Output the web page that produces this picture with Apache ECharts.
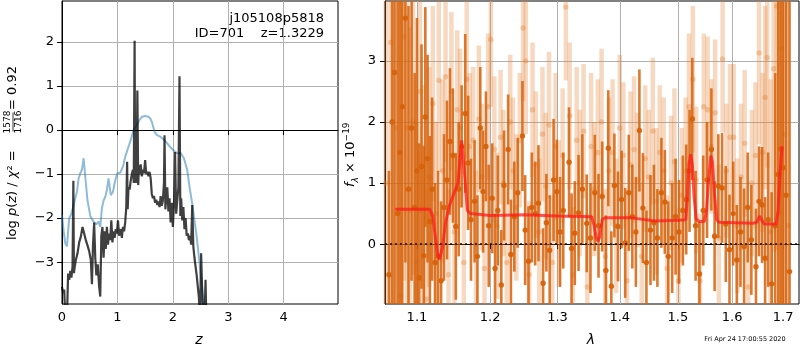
<!DOCTYPE html>
<html><head><meta charset="utf-8">
<script src="https://cdn.jsdelivr.net/npm/echarts@6/dist/echarts.min.js"></script>
<style>html,body{margin:0;padding:0;background:#fff}#c{width:800px;height:350px}</style>
</head><body><div id="c"></div>
<script>
// ---- left panel: p(z) ----
const zTicks = [0, 1, 2, 3, 4];
const lnpTicks = [-3, -2, -1, 0, 1, 2];
const zBlack = [0.00,0.02,0.04,0.06,0.085,0.11,0.13,0.15,0.17,0.19,0.205,0.215,0.23,0.25,0.28,0.31,0.34,0.37,0.40,0.43,0.46,0.49,0.52,0.54,0.56,0.58,0.60,0.62,0.645,0.67,0.69,0.71,0.73,0.75,0.77,0.79,0.81,0.83,0.85,0.87,0.89,0.91,0.93,0.95,0.97,0.99,1.01,1.03,1.06,1.08,1.10,1.12,1.14,1.16,1.175,1.185,1.20,1.22,1.24,1.26,1.28,1.295,1.31,1.32,1.33,1.345,1.36,1.375,1.39,1.40,1.42,1.44,1.46,1.48,1.50,1.52,1.54,1.56,1.58,1.60,1.62,1.64,1.66,1.68,1.70,1.72,1.74,1.76,1.78,1.80,1.82,1.84,1.85,1.865,1.88,1.90,1.92,1.94,1.96,1.98,2.00,2.02,2.04,2.06,2.08,2.10,2.12,2.135,2.15,2.17,2.19,2.21,2.23,2.25,2.27,2.29,2.31,2.33,2.35,2.37,2.39,2.41,2.43,2.45,2.47,2.49,2.51,2.53,2.55,2.57,2.59,2.61];
const lnpBlack = [-3.56,-3.70,-3.62,-4.30,-4.50,-3.26,-3.40,-3.20,-3.35,-3.10,-1.15,-3.25,-3.10,-2.95,-2.80,-2.55,-2.42,-2.20,-2.35,-2.50,-2.62,-2.75,-2.95,-3.50,-2.60,-2.10,-2.90,-3.30,-3.05,-3.55,-3.78,-2.40,-2.20,-2.90,-2.30,-2.70,-2.20,-2.60,-2.35,-2.50,-2.05,-2.55,-2.30,-2.45,-2.25,-2.35,-2.05,-2.40,-2.25,-2.45,-2.20,-2.30,-2.10,-1.75,-0.72,-1.80,-1.30,-1.35,-1.15,-1.00,-0.90,-1.20,2.03,-1.20,-0.90,-1.20,0.90,-1.25,-0.80,-1.00,-0.78,-1.05,-0.90,-0.98,-0.68,-1.00,-0.95,-1.05,-0.95,-1.10,-1.45,-1.55,-1.50,-1.65,-1.58,-1.70,-1.62,-1.75,-1.50,-1.72,-1.60,-1.20,-0.12,-1.80,-1.55,-1.30,-1.85,-1.55,-2.10,-1.65,-2.20,-1.70,-0.50,-1.90,-1.60,-1.30,1.22,-1.95,-1.55,-2.05,-1.75,-2.25,-2.00,-2.40,-2.35,-2.50,-2.40,-2.60,-1.70,-2.65,-2.90,-3.10,-3.30,-3.55,-3.80,-4.30,-2.80,-3.70,-4.30,-4.40,-3.40,-4.60];
const zBlue = [0.00,0.03,0.06,0.09,0.11,0.13,0.16,0.20,0.24,0.27,0.30,0.33,0.36,0.39,0.42,0.46,0.51,0.57,0.62,0.66,0.69,0.72,0.75,0.78,0.81,0.84,0.88,0.92,0.96,1.00,1.05,1.10,1.14,1.20,1.24,1.29,1.35,1.40,1.44,1.50,1.56,1.60,1.63,1.67,1.71,1.77,1.83,1.89,1.95,2.02,2.08,2.14,2.20,2.26,2.30,2.35,2.39,2.43,2.47,2.50,2.54,2.58];
const lnpBlue = [-1.93,-2.30,-2.58,-2.64,-2.30,-2.00,-1.93,-1.76,-1.55,-1.40,-1.10,-0.98,-0.90,-0.64,-1.06,-1.60,-1.95,-2.08,-2.14,-2.08,-2.20,-1.78,-1.60,-1.52,-1.36,-1.10,-1.48,-1.40,-1.14,-0.98,-0.97,-0.83,-0.61,-0.38,-0.23,0.00,0.11,0.23,0.30,0.32,0.30,0.25,0.15,-0.04,-0.11,-0.15,-0.21,-0.29,-0.38,-0.47,-0.53,-0.52,-0.64,-0.91,-1.29,-1.67,-2.05,-2.42,-2.88,-3.26,-3.71,-4.20];

// ---- right panel: spectrum ----
const lamTicks = [1.1, 1.2, 1.3, 1.4, 1.5, 1.6, 1.7];
const fluxTicks = [0, 1, 2, 3];
const lamDark = [1.064,1.068,1.071,1.075,1.078,1.081,1.085,1.089,1.093,1.097,1.100,1.103,1.106,1.109,1.111,1.114,1.117,1.120,1.124,1.128,1.132,1.136,1.140,1.144,1.148,1.152,1.156,1.160,1.165,1.169,1.173,1.178,1.182,1.186,1.190,1.194,1.198,1.203,1.207,1.211,1.216,1.220,1.226,1.230,1.235,1.240,1.247,1.251,1.256,1.261,1.266,1.271,1.278,1.283,1.288,1.294,1.299,1.304,1.309,1.318,1.322,1.327,1.333,1.339,1.346,1.352,1.359,1.365,1.371,1.377,1.381,1.386,1.391,1.397,1.403,1.409,1.415,1.421,1.427,1.433,1.439,1.445,1.452,1.458,1.464,1.471,1.477,1.483,1.490,1.496,1.502,1.509,1.515,1.521,1.526,1.532,1.539,1.546,1.553,1.561,1.567,1.574,1.581,1.588,1.595,1.602,1.609,1.616,1.623,1.630,1.637,1.646,1.652,1.658,1.664,1.670,1.677,1.684,1.690,1.695,1.700,1.706,1.713];
const fluxDark = [-0.5,2.0,2.81,0.5,1.5,2.25,3.70,0.9,1.9,0.6,1.2,-0.55,1.27,-0.19,2.08,1.40,0.37,0.9,-0.3,-0.20,-0.60,0.6,1.05,1.68,1.45,0.29,0.9,1.6,2.14,1.33,0.40,0.7,-0.2,1.90,0.86,1.60,0.3,0.75,-0.40,0.55,-0.67,0.96,1.55,-0.17,0.45,0.84,1.77,0.23,-0.28,0.6,0.5,0.67,-0.64,0.35,-0.1,1.05,0.86,0.2,0.55,1.34,-0.07,0.18,0.51,0.9,0.34,0.1,0.84,0.3,0.78,-0.43,1.57,-0.69,0.96,0.29,0.73,0.02,0.84,0.45,0.2,1.86,0.59,-0.3,0.23,0.35,0.1,0.84,0.69,-0.20,0.10,0.45,0.2,0.55,0.73,1.2,2.05,0.3,-0.49,0.55,1.05,1.55,0.13,0.95,0.92,0.33,-0.09,0.5,-0.26,0.2,-0.04,0.6,0.07,-0.37,0.70,0.64,-0.23,0.4,-0.65,0.3,1.14,1.56,1.25,0.8,-0.45];
const errDark = [1.7,5,5,5,5,4,4,3,2.5,2.2,2.5,2.2,2.0,1.8,1.8,1.7,1.4,1.5,1.3,1.4,1.3,1.2,1.3,1.2,1.1,1.2,1.1,1.0,1.3,1.1,1.0,1.0,1.0,1.0,1.0,0.9,1.0,0.9,0.9,0.9,0.9,0.9,0.9,0.9,0.9,0.9,0.9,0.9,0.9,0.9,0.85,0.95,0.9,0.8,0.9,1.0,0.85,0.9,0.95,0.9,0.9,0.85,0.95,0.9,0.8,0.9,0.95,0.85,0.9,0.9,0.95,0.9,0.85,0.9,0.8,0.9,0.95,0.85,0.9,1.0,0.9,0.85,0.9,0.95,0.8,0.9,0.85,0.9,0.9,0.95,0.85,0.9,0.9,1.0,1.0,0.9,0.85,0.9,0.95,1.0,0.9,0.85,0.9,0.95,0.9,0.85,0.9,0.9,0.95,0.9,0.9,0.95,0.9,0.95,1.0,1.1,1.5,2.5,5,5,5,5,5];
const lamLight = [1.060,1.066,1.073,1.079,1.083,1.087,1.091,1.095,1.099,1.104,1.108,1.112,1.116,1.121,1.125,1.129,1.134,1.138,1.142,1.146,1.150,1.154,1.158,1.163,1.167,1.171,1.176,1.180,1.184,1.188,1.192,1.197,1.201,1.206,1.210,1.215,1.219,1.224,1.229,1.233,1.238,1.243,1.248,1.252,1.257,1.262,1.267,1.272,1.277,1.282,1.287,1.292,1.297,1.302,1.308,1.313,1.319,1.324,1.330,1.335,1.341,1.347,1.353,1.358,1.364,1.370,1.376,1.382,1.388,1.394,1.400,1.406,1.412,1.418,1.424,1.430,1.437,1.443,1.449,1.456,1.462,1.468,1.475,1.481,1.488,1.494,1.501,1.507,1.514,1.520,1.527,1.533,1.540,1.547,1.554,1.561,1.568,1.575,1.582,1.589,1.596,1.603,1.610,1.617,1.624,1.631,1.638,1.645,1.652,1.659,1.664,1.668,1.675,1.681,1.687,1.692,1.697,1.703,1.710];
const fluxLight = [1.0,3.3,1.9,-0.85,3.4,1.9,0.55,2.0,-0.3,2.5,0.6,-0.9,1.1,2.3,0.5,2.68,1.2,2.74,-0.5,2.5,0.2,2.2,1.9,-0.3,2.70,1.6,1.7,0.0,2.05,1.1,-0.4,2.25,3.35,1.55,0.3,1.75,1.0,-0.3,2.0,1.2,0.6,1.7,3.54,3.0,-0.5,2.2,1.3,0.2,1.8,0.95,1.95,-0.3,1.6,0.5,1.45,3.88,2.1,-0.5,1.7,1.0,1.85,-0.7,1.6,0.9,1.5,2.0,-0.2,1.2,1.5,0.3,1.9,1.45,-0.6,1.3,1.55,1.05,-0.2,1.4,1.1,1.85,0.7,1.5,1.2,-0.4,1.0,1.35,-0.6,0.8,1.2,2.25,2.70,1.05,-0.6,2.25,2.20,1.6,2.15,0.1,3.03,1.2,1.75,1.75,0.3,1.1,1.65,-0.7,1.0,1.45,3.13,1.5,2.40,3.05,0.2,2.87,3.9,0.5,3.2,1.8,0.3];
const errLight = [5,5,5,5,4,3,3,2.5,2.3,2.0,2.0,1.8,1.8,1.6,1.5,1.5,1.5,1.4,1.4,1.3,1.3,1.3,1.3,1.3,1.3,1.2,1.2,1.2,1.2,1.2,1.2,1.2,1.1,1.2,1.2,1.1,1.2,1.2,1.1,1.2,1.2,1.1,1.2,1.2,1.2,1.1,1.2,1.2,1.1,1.2,1.2,1.1,1.2,1.2,1.1,1.2,1.2,1.1,1.2,1.2,1.1,1.2,1.2,1.1,1.2,1.2,1.1,1.2,1.2,1.1,1.2,1.2,1.1,1.2,1.2,1.1,1.2,1.2,1.1,1.2,1.2,1.1,1.2,1.2,1.1,1.2,1.2,1.1,1.2,1.2,1.2,1.2,1.1,1.2,1.2,1.1,1.2,1.2,1.2,1.1,1.2,1.2,1.1,1.2,1.2,1.1,1.2,1.2,1.5,1.3,1.5,1.8,2.5,3,4,5,5,5,5];
const modelLam = [1.072,1.117,1.121,1.124,1.127,1.130,1.134,1.138,1.143,1.150,1.155,1.160,1.164,1.168,1.172,1.200,1.250,1.300,1.354,1.358,1.361,1.364,1.367,1.371,1.375,1.420,1.460,1.500,1.514,1.517,1.520,1.523,1.526,1.529,1.533,1.538,1.548,1.552,1.556,1.560,1.563,1.567,1.571,1.575,1.640,1.648,1.653,1.657,1.662,1.686,1.690,1.694,1.698];
const modelFlux = [0.57,0.57,0.45,0.15,-0.15,-0.25,-0.05,0.35,0.62,0.85,1.00,1.70,1.15,0.55,0.50,0.47,0.48,0.46,0.45,0.30,0.12,0.05,0.12,0.40,0.43,0.43,0.38,0.39,0.40,0.75,1.30,1.47,1.30,0.80,0.42,0.37,0.37,0.55,1.05,1.45,1.35,0.80,0.40,0.36,0.34,0.36,0.46,0.40,0.33,0.33,0.55,1.20,1.60];

const FONT = 'DejaVu Sans';
const L10 = Math.log10;
const minus = v => (v < 0 ? '\u2212' : '') + Math.abs(v);

function errRender(barColor, dotColor, lw, r) {
  return function (params, api) {
    const x = api.value(0), y = api.value(1), e = api.value(2);
    const cs = params.coordSys;
    const top = cs.y, bot = cs.y + cs.height;
    const p1 = api.coord([x, y + e]), p2 = api.coord([x, y - e]), c = api.coord([x, y]);
    const y1 = Math.max(top, p1[1]), y2 = Math.min(bot, p2[1]);
    const ch = [];
    if (y2 > y1) ch.push({type: 'line', shape: {x1: c[0], y1: y1, x2: c[0], y2: y2}, style: {stroke: barColor, lineWidth: lw}});
    if (c[1] >= top && c[1] <= bot) ch.push({type: 'circle', shape: {cx: c[0], cy: c[1], r: r}, style: {fill: dotColor}});
    return {type: 'group', children: ch};
  };
}

const axisCommon = {
  axisLine: {show: true, lineStyle: {color: '#000', width: 1}},
  splitLine: {show: true, lineStyle: {color: '#b0b0b0', width: 1}},
};
function tickCfg(vals) { return {show: true, inside: false, length: 5, lineStyle: {color: '#000', width: 1}, customValues: vals}; }
function labCfg(vals, fmt, margin) { return {customValues: vals, formatter: fmt, color: '#000', fontFamily: FONT, fontSize: 13, margin: margin}; }

const chart = echarts.init(document.getElementById('c'), null, {renderer: 'canvas'});
chart.setOption({
  animation: false,
  backgroundColor: '#fff',
  grid: [
    {left: 62, top: 1, width: 276, height: 303, show: true, borderColor: '#000', borderWidth: 1, backgroundColor: 'transparent'},
    {left: 385, top: 1, width: 414, height: 303, show: true, borderColor: '#000', borderWidth: 1, backgroundColor: 'transparent'}
  ],
  xAxis: [
    Object.assign({type: 'value', gridIndex: 0, min: 0, max: 4.98, axisTick: tickCfg(zTicks), axisLabel: labCfg(zTicks, v => minus(v), 7)}, axisCommon),
    Object.assign({type: 'value', gridIndex: 1, min: L10(1.059), max: L10(1.7324), axisTick: tickCfg(lamTicks.map(L10)), axisLabel: labCfg(lamTicks.map(L10), v => Math.pow(10, v).toFixed(1), 7)}, axisCommon)
  ],
  yAxis: [
    Object.assign({type: 'value', gridIndex: 0, min: -3.95, max: 2.93, axisTick: tickCfg(lnpTicks), axisLabel: labCfg(lnpTicks, v => minus(v), 8)}, axisCommon),
    Object.assign({type: 'value', gridIndex: 1, min: -0.98, max: 3.98, axisTick: tickCfg(fluxTicks), axisLabel: labCfg(fluxTicks, v => minus(v), 9)}, axisCommon)
  ],
  series: [
    {type: 'line', xAxisIndex: 0, yAxisIndex: 0, data: zBlue.map((z, i) => [z, lnpBlue[i]]), showSymbol: false, clip: true,
     lineStyle: {color: 'rgba(31,119,180,0.5)', width: 2}, z: 2},
    {type: 'line', xAxisIndex: 0, yAxisIndex: 0, data: zBlack.map((z, i) => [z, lnpBlack[i]]), showSymbol: false, clip: true,
     lineStyle: {color: 'rgba(0,0,0,0.75)', width: 2.2}, z: 3},
    {type: 'custom', xAxisIndex: 1, yAxisIndex: 1, data: lamLight.map((l, i) => [L10(l), fluxLight[i], errLight[i]]),
     renderItem: errRender('rgba(228,128,50,0.3)', 'rgba(225,125,50,0.35)', 4.5, 2.7), z: 2},
    {type: 'custom', xAxisIndex: 1, yAxisIndex: 1, data: lamDark.map((l, i) => [L10(l), fluxDark[i], errDark[i]]),
     renderItem: errRender('rgba(214,98,10,0.85)', 'rgba(214,98,10,0.95)', 2.6, 2.7), z: 3},
    {type: 'line', xAxisIndex: 1, yAxisIndex: 1, data: modelLam.map((l, i) => [L10(l), modelFlux[i]]), showSymbol: false, clip: true,
     lineStyle: {color: 'rgba(255,25,25,0.75)', width: 3}, z: 5,
     markLine: {silent: true, symbol: 'none', label: {show: false}, lineStyle: {color: '#111', type: [2, 3], width: 1.6}, data: [{yAxis: 0}], z: 4}}
  ],
  graphic: [
    {type: 'text', right: 800 - 324, top: 12, style: {text: 'j105108p5818', font: '13px "DejaVu Sans"', fill: '#000', align: 'right'}},
    {type: 'text', right: 800 - 324, top: 27, style: {text: 'ID=701    z=1.3229', font: '13px "DejaVu Sans"', fill: '#000', align: 'right'}},
    {type: 'text', x: 199, y: 340, style: {text: 'z', font: 'italic 14px "DejaVu Sans"', fill: '#000', align: 'center', verticalAlign: 'middle'}},
    {type: 'text', x: 591, y: 340, style: {text: 'λ', font: 'italic 14px "DejaVu Sans"', fill: '#000', align: 'center', verticalAlign: 'middle'}},
    {type: 'text', x: 745, y: 339, style: {text: 'Fri Apr 24 17:00:55 2020', font: '6.5px "DejaVu Sans"', fill: '#000', align: 'center', verticalAlign: 'middle'}},
    {type: 'text', x: 13, y: 240, rotation: Math.PI / 2, style: {
      text: '{n|log }{i|p}{n|(}{i|z}{n|) / }{i|χ}{n|² = }', align: 'left', verticalAlign: 'middle', fill: '#000',
      rich: {n: {fontFamily: FONT, fontSize: 13, fill: '#000'}, i: {fontFamily: FONT, fontSize: 13, fontStyle: 'italic', fill: '#000'}}}},
    {type: 'text', x: 8, y: 122, rotation: Math.PI / 2, style: {text: '1578', font: '9px "DejaVu Sans"', fill: '#000', align: 'center', verticalAlign: 'middle'}},
    {type: 'text', x: 18.5, y: 122, rotation: Math.PI / 2, style: {text: '1716', font: '9px "DejaVu Sans"', fill: '#000', align: 'center', verticalAlign: 'middle'}},
    {type: 'line', shape: {x1: 13, y1: 131.5, x2: 13, y2: 112.5}, style: {stroke: '#000', lineWidth: 0.8}},
    {type: 'text', x: 13, y: 110, rotation: Math.PI / 2, style: {text: '= 0.92', font: '13px "DejaVu Sans"', fill: '#000', align: 'left', verticalAlign: 'middle'}},
    {type: 'text', x: 351, y: 187, rotation: Math.PI / 2, style: {
      text: '{i|f}{s|λ}{n| × 10}{p|−19}', align: 'left', verticalAlign: 'middle', fill: '#000',
      rich: {n: {fontFamily: FONT, fontSize: 13, lineHeight: 18, fill: '#000'},
             i: {fontFamily: FONT, fontSize: 13, fontStyle: 'italic', lineHeight: 18, fill: '#000'},
             s: {fontFamily: FONT, fontSize: 9, fontStyle: 'italic', verticalAlign: 'bottom', lineHeight: 18, fill: '#000'},
             p: {fontFamily: FONT, fontSize: 9, verticalAlign: 'top', lineHeight: 18, fill: '#000'}}}}
  ]
});
</script></body></html>
